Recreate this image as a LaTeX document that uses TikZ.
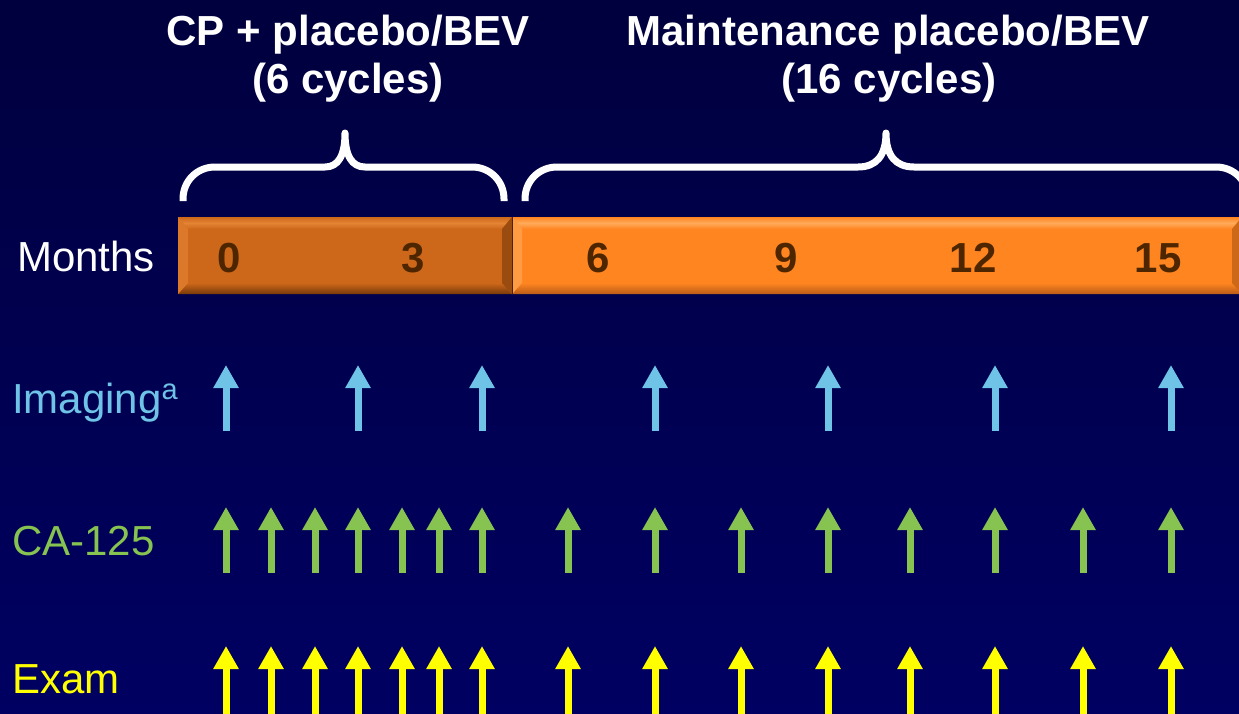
\documentclass[tikz,border=0pt]{standalone}
\usepackage{fontspec}
\setmainfont{Liberation Sans}
\usetikzlibrary{arrows.meta}

% palette
\definecolor{bgtop}{RGB}{0,0,62}
\definecolor{bgbot}{RGB}{0,0,98}
\definecolor{darkbar}{RGB}{205,103,26}
\definecolor{darkbarhi}{RGB}{228,132,52}
\definecolor{darkbarlo}{RGB}{120,58,10}
\definecolor{lightbar}{RGB}{255,133,33}
\definecolor{lightbarhi}{RGB}{255,170,90}
\definecolor{lightbarlo}{RGB}{185,92,22}
\definecolor{numbrown}{RGB}{77,38,0}
\definecolor{imgblue}{RGB}{110,195,230}
\definecolor{cagreen}{RGB}{134,195,80}
\definecolor{examyellow}{RGB}{255,255,0}

\tikzset{
  title/.style={font=\fontsize{42}{48}\selectfont\bfseries, text=white, inner sep=0pt, anchor=base},
  rowlabel/.style={font=\fontsize{42}{48}\selectfont, inner sep=0pt, anchor=base west},
  monthnum/.style={font=\fontsize{42}{48}\selectfont\bfseries, text=numbrown, inner sep=0pt, anchor=base},
  brace/.style={draw=white, line width=7pt, line join=round},
  marker/.style={line width=7pt, -{Triangle[width=24pt,length=23pt]}},
}

\begin{document}
\begin{tikzpicture}[x=1pt, y=-1pt]
  \useasboundingbox (0,0) rectangle (1239,713);
  \clip (0,0) rectangle (1239,713);

  % backdrop
  \shade[top color=bgtop, bottom color=bgbot] (0,0) rectangle (1239,713);

  % phase titles
  \node[title] (t1a) at (348,45) {CP + placebo/BEV};
  \node[title] (t1b) at (348,93) {(6 cycles)};
  \node[title] (t2a) at (888,45) {Maintenance placebo/BEV};
  \node[title] (t2b) at (889,93) {(16 cycles)};

  % curly braces over the two phases (quarter-round ends, cusp in the middle)
  \draw[brace] (183,201) -- (183,199)
    .. controls (183,181) and (197,167) .. (215,167) -- (325,167)
    .. controls (338,167) and (345,156) .. (345,133)
    .. controls (345,156) and (352,167) .. (365,167) -- (472,167)
    .. controls (490,167) and (504,181) .. (504,199) -- (504,201);
  \draw[brace] (525,201) -- (525,199)
    .. controls (525,181) and (539,167) .. (557,167) -- (858,167)
    .. controls (876,167) and (886,156) .. (886,133)
    .. controls (886,156) and (896,167) .. (914,167) -- (1216,167)
    .. controls (1234,167) and (1248,181) .. (1248,199);

  % timeline bar: induction segment (bevelled)
  \fill[darkbar] (178,217) rectangle (512,294);
  \shade[top color=darkbar, bottom color=darkbar, middle color=darkbarhi]
    (178,217) -- (512,217) -- (502,229) -- (188,229) -- cycle;
  \shade[top color=darkbar, bottom color=darkbarlo]
    (178,294) -- (512,294) -- (502,283) -- (188,283) -- cycle;
  \fill[darkbarhi!60!darkbar] (178,217) -- (188,229) -- (188,283) -- (178,294) -- cycle;
  \fill[darkbarlo!60!darkbar] (512,217) -- (502,229) -- (502,283) -- (512,294) -- cycle;

  % timeline bar: maintenance segment (bevelled)
  \fill[lightbar] (512,217) rectangle (1242,294);
  \shade[top color=lightbar, bottom color=lightbar, middle color=lightbarhi]
    (512,217) -- (1242,217) -- (1232,229) -- (522,229) -- cycle;
  \shade[top color=lightbar, bottom color=lightbarlo]
    (512,294) -- (1242,294) -- (1232,283) -- (522,283) -- cycle;
  \fill[lightbarhi!60!lightbar] (512,217) -- (522,229) -- (522,283) -- (512,294) -- cycle;
  \fill[lightbarlo!70!lightbar] (1242,217) -- (1232,229) -- (1232,283) -- (1242,294) -- cycle;
  \draw[darkbarlo!60!black, line width=1.5pt] (512.5,217) -- (512.5,294);

  % month ticks
  \node[monthnum] (m0)  at (229,272)  {0};
  \node[monthnum] (m3)  at (413,272)  {3};
  \node[monthnum] (m6)  at (598,272)  {6};
  \node[monthnum] (m9)  at (786,272)  {9};
  \node[monthnum] (m12) at (973,272)  {12};
  \node[monthnum] (m15) at (1158,272) {15};

  % row labels
  \node[rowlabel, text=white] (months) at (17,271) {Months};
  \node[rowlabel, text=imgblue] (imaging) at (12,413)
    {Imaging\raisebox{14pt}{\fontsize{29}{29}\selectfont a}};
  \node[rowlabel, text=cagreen] (ca) at (12,555) {CA-125};
  \node[rowlabel, text=examyellow] (exam) at (12,693) {Exam};

  % imaging schedule
  \foreach \x [count=\i] in {226,358,482,655,828,995,1171} {
    \coordinate (img-\i-b) at (\x,431);
    \coordinate (img-\i-t) at (\x,365);
    \draw[marker, imgblue] (img-\i-b) -- (img-\i-t);
  }

  % CA-125 and exam schedules
  \foreach \x [count=\i] in {226,271,315,358,402,439,482,568,655,741,828,910,995,1083,1171} {
    \coordinate (ca-\i-b) at (\x,573);
    \coordinate (ca-\i-t) at (\x,507);
    \draw[marker, cagreen] (ca-\i-b) -- (ca-\i-t);
    \coordinate (ex-\i-b) at (\x,716);
    \coordinate (ex-\i-t) at (\x,646);
    \draw[marker, examyellow] (ex-\i-b) -- (ex-\i-t);
  }
\end{tikzpicture}
\end{document}
